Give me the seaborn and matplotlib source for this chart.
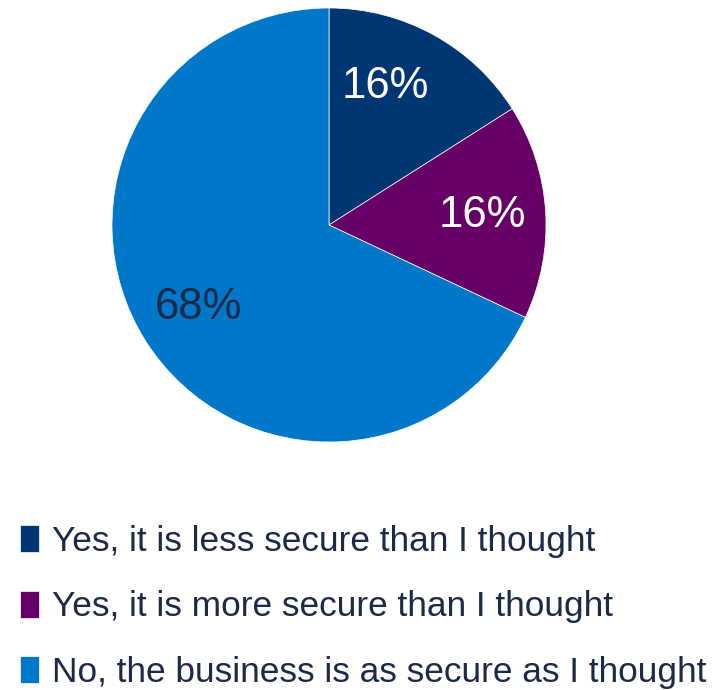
import matplotlib
matplotlib.use("Agg")
import matplotlib.pyplot as plt
import seaborn as sns

categories = ["Yes, it is less secure than I thought",
              "Yes, it is more secure than I thought",
              "No, the business is as secure as I thought"]
values = [16, 16, 68]
colors = ["#003671", "#660066", "#0077C8"]
label_colors = ["white", "white", "#1B2A47"]

sns.set_style("white")
plt.rcParams['font.family'] = ['Liberation Sans', 'DejaVu Sans']

fig = plt.figure(figsize=(7.18, 6.9), dpi=100)
ax = fig.add_axes([112/718, 1 - 442/690, 434/718, 434/690])
wedges, texts, autotexts = ax.pie(values, colors=sns.color_palette(colors), startangle=90,
                                  counterclock=False, autopct='%d%%', pctdistance=0.71,
                                  radius=1.0, wedgeprops=dict(linewidth=0.5, edgecolor='white'),
                                  textprops=dict(fontsize=31.5))
for t, c in zip(autotexts, label_colors):
    t.set_color(c)
autotexts[0].set_position((0.258, 0.636))
ax.set_xlim(-1, 1)
ax.set_ylim(-1, 1)
ax.set_aspect('equal')

leg = fig.legend(wedges, categories, loc='upper left', bbox_to_anchor=(20/718, 1 - 525/690),
                 frameon=False, labelspacing=0.92, handlelength=0.55,
                 handleheight=0.8, handletextpad=0.35, borderaxespad=0, borderpad=0,
                 prop=dict(family=['Liberation Sans'], size=25.4))
for t in leg.get_texts():
    t.set_color("#1B2A47")

fig.savefig("out.png", dpi=100)
